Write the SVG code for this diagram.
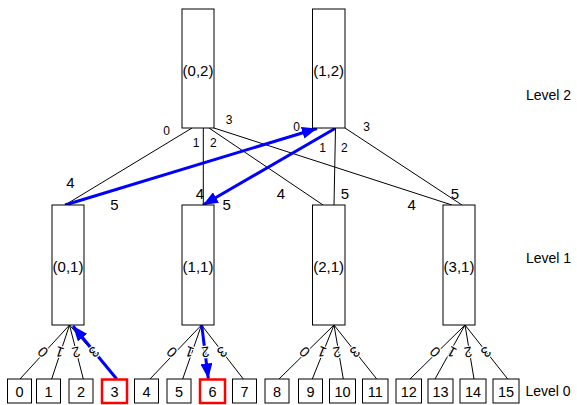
<svg xmlns="http://www.w3.org/2000/svg" width="577" height="405" viewBox="0 0 577 405">
<style>
text{font-family:"Liberation Sans",Arial,sans-serif;fill:#000;}
.box{fill:#fff;stroke:#000;stroke-width:1;}
.red{fill:#fff;stroke:#f00;stroke-width:2.5;}
.lbl{font-size:15px;text-anchor:middle;}
.dig{font-size:14.5px;text-anchor:middle;}
.big{font-size:15px;text-anchor:middle;}
.sm{font-size:12px;text-anchor:middle;}
.rot{font-size:14.5px;text-anchor:middle;dominant-baseline:central;paint-order:stroke;stroke:#fff;stroke-width:2.5px;}
.lvl{font-size:14px;}
.ln{stroke:#000;stroke-width:1;fill:none;}
.blue{stroke:#00f;stroke-width:3;fill:none;marker-end:url(#ah);}
</style>
<defs>
<marker id="ah" markerUnits="userSpaceOnUse" markerWidth="16" markerHeight="12" refX="15" refY="6" orient="auto">
<path d="M0,0 L15,6 L0,12 Z" fill="#00f"/>
</marker>
</defs>
<g id="connectors">
<line class="ln" x1="192" y1="128" x2="65" y2="205"/>
<line class="ln" x1="203.3" y1="128" x2="203.3" y2="205"/>
<line class="ln" x1="209" y1="128" x2="323" y2="205"/>
<line class="ln" x1="214" y1="128" x2="452" y2="205"/>
<line class="ln" x1="317" y1="128" x2="65" y2="205"/>
<line class="ln" x1="335" y1="128" x2="203" y2="205"/>
<line class="ln" x1="335.5" y1="128" x2="334" y2="205"/>
<line class="ln" x1="345" y1="128" x2="462" y2="205"/>
<line class="ln" x1="69.5" y1="325" x2="20" y2="379"/>
<line class="ln" x1="69.5" y1="325" x2="51.7" y2="379"/>
<line class="ln" x1="69.5" y1="325" x2="83.3" y2="379"/>
<line class="ln" x1="69.5" y1="325" x2="116.7" y2="379"/>
<line class="ln" x1="201.5" y1="325" x2="150" y2="379"/>
<line class="ln" x1="201.5" y1="325" x2="182.7" y2="379"/>
<line class="ln" x1="201.5" y1="325" x2="208.3" y2="379"/>
<line class="ln" x1="201.5" y1="325" x2="243.3" y2="379"/>
<line class="ln" x1="334" y1="325" x2="279" y2="379"/>
<line class="ln" x1="334" y1="325" x2="312.3" y2="379"/>
<line class="ln" x1="334" y1="325" x2="343.3" y2="379"/>
<line class="ln" x1="334" y1="325" x2="376.7" y2="379"/>
<line class="ln" x1="465" y1="325" x2="410" y2="379"/>
<line class="ln" x1="465" y1="325" x2="435" y2="379"/>
<line class="ln" x1="465" y1="325" x2="474" y2="379"/>
<line class="ln" x1="465" y1="325" x2="507.7" y2="379"/>
<line class="blue" x1="65" y1="205" x2="317" y2="128.5"/>
<line class="blue" x1="335" y1="128.5" x2="203" y2="205"/>
<line class="blue" x1="116.7" y1="379" x2="73" y2="326"/>
<line class="blue" x1="201.7" y1="325" x2="208.3" y2="378.5"/>
<g class="sm">
<text x="166.7" y="135">0</text>
<text x="196" y="147">1</text>
<text x="213.3" y="147">2</text>
<text x="229" y="123.5">3</text>
<text x="296.7" y="131">0</text>
<text x="322.7" y="151.5">1</text>
<text x="344.3" y="151.5">2</text>
<text x="366.7" y="130.5">3</text>
</g>
<g class="big">
<text x="70.3" y="188">4</text>
<text x="114.3" y="210">5</text>
<text x="200" y="198.5">4</text>
<text x="226.7" y="210">5</text>
<text x="281" y="198.5">4</text>
<text x="345" y="198.5">5</text>
<text x="411.7" y="210">4</text>
<text x="455" y="198.5">5</text>
</g>
<g>
<text class="rot" transform="translate(43,352) rotate(222.5)">0</text>
<text class="rot" transform="translate(59.5,352) rotate(198.2)">1</text>
<text class="rot" transform="translate(76,352) rotate(165.7)">2</text>
<text class="rot" transform="translate(94,352) rotate(138.8)">3</text>
<text class="rot" transform="translate(172,352) rotate(223.6)">0</text>
<text class="rot" transform="translate(189.5,352) rotate(199.2)">1</text>
<text class="rot" transform="translate(205.5,352) rotate(172.8)">2</text>
<text class="rot" transform="translate(222,352) rotate(142.3)">3</text>
<text class="rot" transform="translate(304.5,352) rotate(225.5)">0</text>
<text class="rot" transform="translate(322,352) rotate(201.9)">1</text>
<text class="rot" transform="translate(337,352) rotate(170.2)">2</text>
<text class="rot" transform="translate(355,352) rotate(141.7)">3</text>
<text class="rot" transform="translate(435,352) rotate(225.5)">0</text>
<text class="rot" transform="translate(451.7,352) rotate(209)">1</text>
<text class="rot" transform="translate(468,352) rotate(170.5)">2</text>
<text class="rot" transform="translate(486,352) rotate(141.7)">3</text>
</g>
</g>
<g id="n02"><rect class="box" x="182" y="9" width="32" height="119"/><text class="lbl" x="198" y="75.5">(0,2)</text></g>
<g id="n12"><rect class="box" x="312.5" y="9" width="32.5" height="119"/><text class="lbl" x="328.7" y="75.5">(1,2)</text></g>
<g id="n01"><rect class="box" x="52" y="205" width="32" height="120"/><text class="lbl" x="68" y="271.5">(0,1)</text></g>
<g id="n11"><rect class="box" x="182" y="205" width="32" height="120"/><text class="lbl" x="198" y="271.5">(1,1)</text></g>
<g id="n21"><rect class="box" x="312.5" y="205" width="32.5" height="120"/><text class="lbl" x="328.7" y="271.5">(2,1)</text></g>
<g id="n31"><rect class="box" x="443" y="205" width="32" height="120"/><text class="lbl" x="459" y="271.5">(3,1)</text></g>
<g id="l0"><rect class="box" x="7.5" y="379" width="24" height="24"/><text class="dig" x="19.5" y="396.5">0</text></g>
<g id="l1"><rect class="box" x="36.5" y="379" width="24" height="24"/><text class="dig" x="48.5" y="396.5">1</text></g>
<g id="l2"><rect class="box" x="69" y="379" width="24" height="24"/><text class="dig" x="81" y="396.5">2</text></g>
<g id="l3"><rect class="red" x="102" y="379.5" width="25" height="23.5"/><text class="dig" x="114.5" y="396.5">3</text></g>
<g id="l4"><rect class="box" x="134.5" y="379" width="24" height="24"/><text class="dig" x="146.5" y="396.5">4</text></g>
<g id="l5"><rect class="box" x="167" y="379" width="24" height="24"/><text class="dig" x="179" y="396.5">5</text></g>
<g id="l6"><rect class="red" x="200" y="379.5" width="25" height="23.5"/><text class="dig" x="212.5" y="396.5">6</text></g>
<g id="l7"><rect class="box" x="232.5" y="379" width="24" height="24"/><text class="dig" x="244.5" y="396.5">7</text></g>
<g id="l8"><rect class="box" x="265" y="379" width="24" height="24"/><text class="dig" x="277" y="396.5">8</text></g>
<g id="l9"><rect class="box" x="298.5" y="379" width="24" height="24"/><text class="dig" x="310.5" y="396.5">9</text></g>
<g id="l10"><rect class="box" x="329.5" y="379" width="26" height="24"/><text class="dig" x="342.5" y="396.5">10</text></g>
<g id="l11"><rect class="box" x="362.5" y="379" width="25.5" height="24"/><text class="dig" x="375.2" y="396.5">11</text></g>
<g id="l12"><rect class="box" x="396" y="379" width="25.5" height="24"/><text class="dig" x="408.7" y="396.5">12</text></g>
<g id="l13"><rect class="box" x="428" y="379" width="25" height="24"/><text class="dig" x="440.5" y="396.5">13</text></g>
<g id="l14"><rect class="box" x="460" y="379" width="26" height="24"/><text class="dig" x="473" y="396.5">14</text></g>
<g id="l15"><rect class="box" x="493" y="379" width="26" height="24"/><text class="dig" x="506" y="396.5">15</text></g>
<g id="levels">
<text class="lvl" x="526" y="100">Level 2</text>
<text class="lvl" x="526" y="263">Level 1</text>
<text class="lvl" x="525.5" y="396">Level 0</text>
</g>
</svg>
